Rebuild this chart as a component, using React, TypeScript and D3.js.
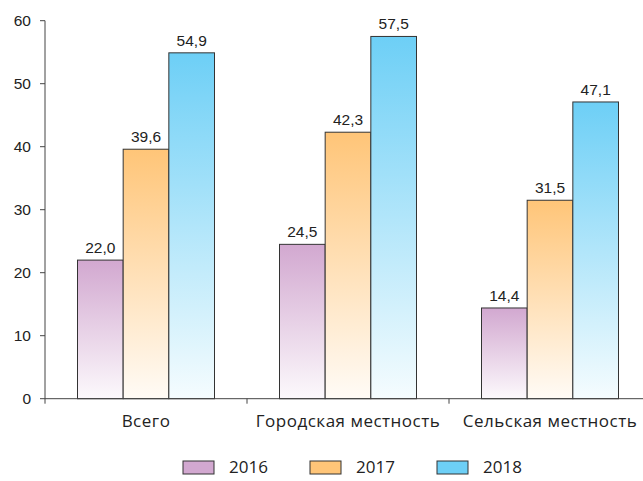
import React from "react";
import * as d3 from "d3";

const categories = ["Всего", "Городская местность", "Сельская местность"];
const years = ["2016", "2017", "2018"];
const values2016 = [22.0, 24.5, 14.4];
const values2017 = [39.6, 42.3, 31.5];
const values2018 = [54.9, 57.5, 47.1];
const yTicks = [0, 10, 20, 30, 40, 50, 60];
const colors = ["#d2a8d0", "#ffc578", "#6dcff6"];

export default function App() {
  const W = 643, H = 481;
  const left = 45, right = 651, top = 20.7, bottom = 398.7;
  const series = [values2016, values2017, values2018];
  const x0 = d3.scaleBand().domain(categories).range([left, right]).paddingInner(0).paddingOuter(0);
  const groupInner = 137;
  const x1 = d3.scaleBand().domain(years).range([0, groupInner]).padding(0);
  const y = d3.scaleLinear().domain([0, 60]).range([bottom, top]);
  const fmt = (v: number) => v.toFixed(1).replace(".", ",");
  const numFont = "'Liberation Sans', Arial, sans-serif";
  const catFont = "'Open Sans', 'Noto Sans', sans-serif";
  return (
    <svg width={W} height={H} style={{ position: "absolute", left: 0, top: 0, background: "#fff" }}>
      <defs>
        {colors.map((c, i) => (
          <linearGradient key={i} id={`g${i}`} x1="0" y1="0" x2="0" y2="1">
            <stop offset="0%" stopColor={c} />
            <stop offset="100%" stopColor={d3.interpolateRgb(c, "#ffffff")(0.93)} />
          </linearGradient>
        ))}
      </defs>
      {categories.map((cat, ci) => {
        const gx = x0(cat)! + (x0.bandwidth() - groupInner) / 2;
        return years.map((yr, si) => {
          const v = series[si][ci];
          const bx = gx + x1(yr)!;
          const by = y(v);
          return (
            <g key={cat + yr}>
              <rect x={bx} y={by} width={x1.bandwidth()} height={bottom - by}
                fill={`url(#g${si})`} stroke="#333" strokeWidth={1} />
              <text x={bx + x1.bandwidth() / 2} y={by - 7} textAnchor="middle"
                fontFamily={numFont} fontSize={15.5} fill="#222">{fmt(v)}</text>
            </g>
          );
        });
      })}
      <line x1={left} x2={left} y1={top} y2={bottom} stroke="#444" strokeWidth={1} />
      {yTicks.map((t) => (
        <g key={t}>
          <line x1={left - 5} x2={left} y1={y(t)} y2={y(t)} stroke="#444" />
          <text x={31} y={y(t)} dy="0.35em" textAnchor="end"
            fontFamily={numFont} fontSize={15.5} fill="#222">{t}</text>
        </g>
      ))}
      <line x1={left} x2={right} y1={bottom} y2={bottom} stroke="#444" strokeWidth={1} />
      {[...categories.map((c) => x0(c)!), right].map((tx, i) => (
        <line key={i} x1={tx} x2={tx} y1={bottom} y2={bottom + 5} stroke="#444" />
      ))}
      {categories.map((c) => (
        <text key={c} x={x0(c)! + x0.bandwidth() / 2} y={427} textAnchor="middle"
          fontFamily={catFont} fontSize={17} letterSpacing={0.5} fill="#222">{c}</text>
      ))}
      {years.map((yr, i) => {
        const lx = 183 + i * 127;
        return (
          <g key={yr}>
            <rect x={lx} y={461} width={31} height={13} fill={colors[i]} stroke="#333" strokeWidth={1} />
            <text x={lx + 46} y={467.5} dy="0.35em" fontFamily={catFont} fontSize={17} fill="#222">{yr}</text>
          </g>
        );
      })}
    </svg>
  );
}
